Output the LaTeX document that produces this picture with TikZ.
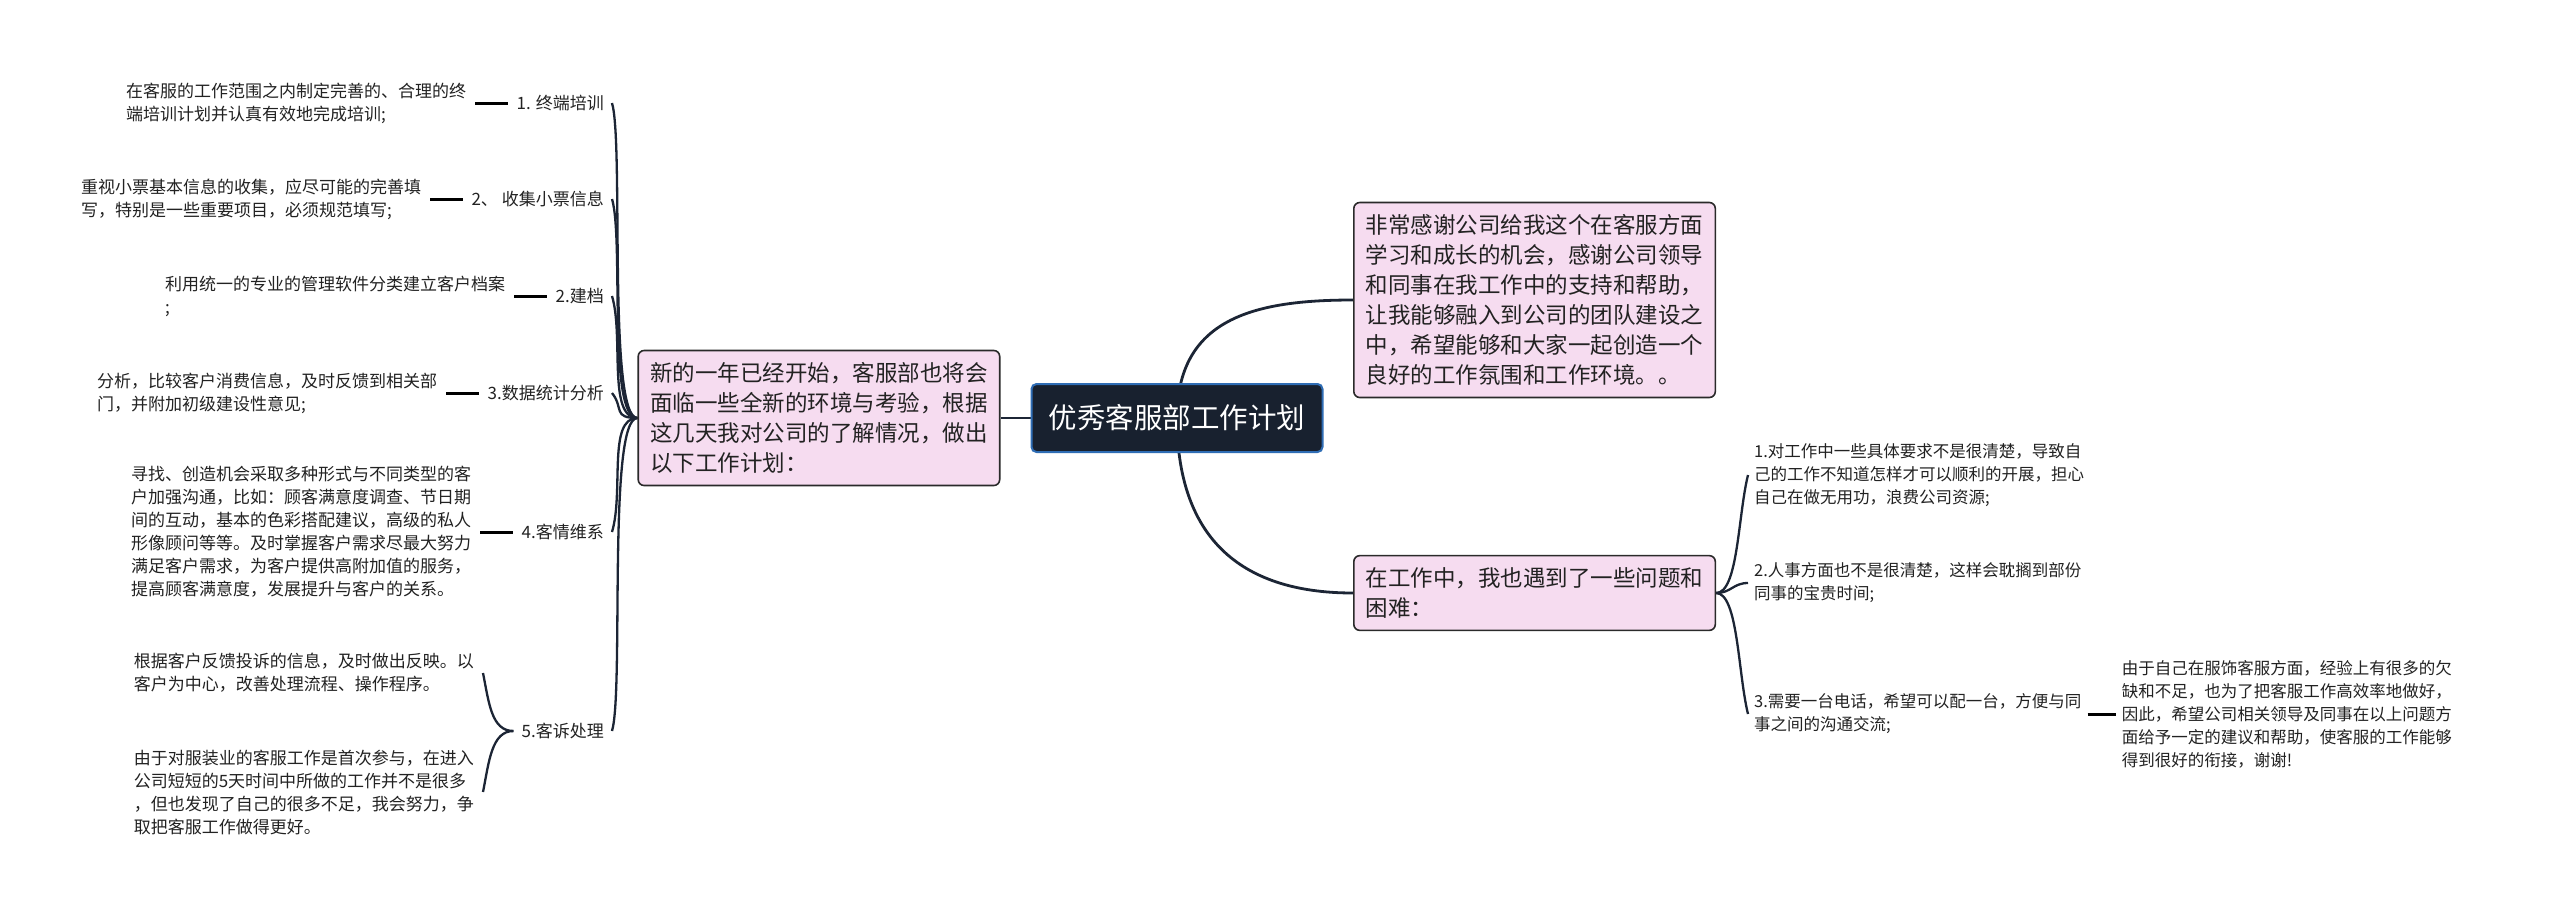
\documentclass[tikz,border=0pt]{standalone}
\usepackage{fontspec}
\setmainfont{Noto Sans CJK SC}
\usetikzlibrary{positioning, calc, backgrounds}
\definecolor{rootfill}{HTML}{18212F}
\definecolor{rootedge}{HTML}{2F6DB5}
\definecolor{topicfill}{HTML}{F6DCF0}
\definecolor{topicedge}{HTML}{2A2A2A}
\definecolor{linkdark}{HTML}{1C2535}
\definecolor{textmain}{HTML}{222222}

\begin{document}
\begin{tikzpicture}[
    x=1pt, y=-1pt,
    node distance=33pt,
    root/.style={rectangle, draw=rootedge, fill=rootfill, text=white, line width=2pt,
                 rounded corners=5pt, minimum width=291pt, minimum height=68pt,
                 font=\fontsize{28.5}{34}\selectfont},
    topic/.style={rectangle, draw=topicedge, fill=topicfill, text=textmain, line width=1.6pt,
                  rounded corners=6pt, align=left, inner xsep=12pt, inner ysep=12pt,
                  font=\fontsize{22.5}{30}\selectfont},
    lbl/.style={inner xsep=8pt, inner ysep=4pt, text=textmain, font=\fontsize{17}{23}\selectfont},
    leaf/.style={inner xsep=9pt, inner ysep=4pt, align=left, text=textmain,
                 font=\fontsize{17}{23}\selectfont},
    sub/.style={inner xsep=6pt, inner ysep=4pt, align=left, text=textmain,
                font=\fontsize{16.5}{23}\selectfont},
    link/.style={draw=linkdark, line width=2.3pt},
    stub/.style={draw=black, line width=3pt},
    trunk/.style={draw=linkdark, line width=2.8pt}
  ]
  \useasboundingbox (0,0) rectangle (2560,916);

  \node[root] (root) at (1177,418) {优秀客服部工作计划};
  \node[topic, left=30pt of root] (plan) {新的一年已经开始，客服部也将会\\面临一些全新的环境与考验，根据\\这几天我对公司的了解情况，做出\\以下工作计划：};
  \node[topic, anchor=west] (thanks) at (1353,300) {非常感谢公司给我这个在客服方面\\学习和成长的机会，感谢公司领导\\和同事在我工作中的支持和帮助，\\让我能够融入到公司的团队建设之\\中，希望能够和大家一起创造一个\\良好的工作氛围和工作环境。。};
  \node[topic, anchor=west] (issue) at (1353,593) {在工作中，我也遇到了一些问题和\\困难：};

  % left branch
  \node[lbl, anchor=east] (train) at (612,103) {1. 终端培训};
  \node[lbl, anchor=east] (ticket) at (612,199) {2、 收集小票信息};
  \node[lbl, anchor=east] (record) at (612,296) {2.建档};
  \node[lbl, anchor=east] (stats) at (612,393) {3.数据统计分析};
  \node[lbl, anchor=east] (care) at (612,532) {4.客情维系};
  \node[lbl, anchor=east] (complain) at (612,731) {5.客诉处理};

  \node[leaf, left=of train] (trainTxt) {在客服的工作范围之内制定完善的、合理的终\\端培训计划并认真有效地完成培训;};
  \node[leaf, left=of ticket] (ticketTxt) {重视小票基本信息的收集，应尽可能的完善填\\写，特别是一些重要项目，必须规范填写;};
  \node[leaf, left=of record] (recordTxt) {利用统一的专业的管理软件分类建立客户档案\\;};
  \node[leaf, left=of stats] (statsTxt) {分析，比较客户消费信息，及时反馈到相关部\\门，并附加初级建设性意见;};
  \node[leaf, left=of care] (careTxt) {寻找、创造机会采取多种形式与不同类型的客\\户加强沟通，比如：顾客满意度调查、节日期\\间的互动，基本的色彩搭配建议，高级的私人\\形像顾问等等。及时掌握客户需求尽最大努力\\满足客户需求，为客户提供高附加值的服务，\\提高顾客满意度，发展提升与客户的关系。};
  \node[leaf, anchor=east] (complainA) at (483,673) {根据客户反馈投诉的信息，及时做出反映。以\\客户为中心，改善处理流程、操作程序。};
  \node[leaf, anchor=east] (complainB) at (483,792) {由于对服装业的客服工作是首次参与，在进入\\公司短短的5天时间中所做的工作并不是很多\\，但也发现了自己的很多不足，我会努力，争\\取把客服工作做得更好。};

  % right branch
  \node[sub, anchor=west] (unclear) at (1748,475) {1.对工作中一些具体要求不是很清楚，导致自\\己的工作不知道怎样才可以顺利的开展，担心\\自己在做无用功，浪费公司资源;};
  \node[sub, anchor=west] (staff) at (1748,583) {2.人事方面也不是很清楚，这样会耽搁到部份\\同事的宝贵时间;};
  \node[sub, anchor=west] (phone) at (1748,714) {3.需要一台电话，希望可以配一台，方便与同\\事之间的沟通交流;};
  \node[sub, right=28pt of phone] (hope) {由于自己在服饰客服方面，经验上有很多的欠\\缺和不足，也为了把客服工作高效率地做好，\\因此，希望公司相关领导及同事在以上问题方\\面给予一定的建议和帮助，使客服的工作能够\\得到很好的衔接，谢谢!};

  \begin{scope}[on background layer]
    \fill[white] (0,0) rectangle (2560,916);
    \draw[trunk] (root) -- (plan);
    \draw[trunk] (root.center) to[out=90, in=180, looseness=1.2] (thanks.west);
    \draw[trunk] (root.center) to[out=-90, in=180, looseness=1.2] (issue.west);

    \draw[link] (plan.west) .. controls +(-30,0) and +(12,40) .. (train.east);
    \draw[link] (plan.west) .. controls +(-30,0) and +(12,40) .. (ticket.east);
    \draw[link] (plan.west) .. controls +(-30,0) and +(12,40) .. (record.east);
    \draw[link] (plan.west) .. controls +(-25,0) and +(12,15) .. (stats.east);
    \draw[link] (plan.west) .. controls +(-30,0) and +(12,-40) .. (care.east);
    \draw[link] (plan.west) .. controls +(-30,0) and +(12,-40) .. (complain.east);

    \draw[stub] (trainTxt) -- (train);
    \draw[stub] (ticketTxt) -- (ticket);
    \draw[stub] (recordTxt) -- (record);
    \draw[stub] (statsTxt) -- (stats);
    \draw[stub] (careTxt) -- (care);
    \draw[link] (complain.west) .. controls +(-22,0) and +(6,30) .. (complainA.east);
    \draw[link] (complain.west) .. controls +(-22,0) and +(6,-30) .. (complainB.east);

    \draw[link] (issue.east) .. controls +(22,0) and +(-10,40) .. (unclear.west);
    \draw[link] (issue.east) .. controls +(15,0) and +(-15,0) .. (staff.west);
    \draw[link] (issue.east) .. controls +(22,0) and +(-10,-40) .. (phone.west);
    \draw[stub] (phone) -- (hope);
  \end{scope}
\end{tikzpicture}
\end{document}
